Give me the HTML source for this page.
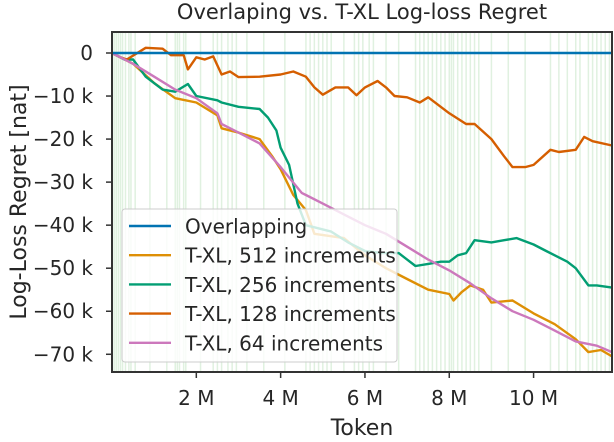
<!DOCTYPE html>
<html><head><meta charset="utf-8"><style>
html,body{margin:0;padding:0;background:#fff;}
svg{display:block;font-family:"DejaVu Sans","Liberation Sans",sans-serif;}
</style></head><body>
<svg id="chart" width="614" height="442" viewBox="0 0 614 442">
<text x="362" y="19" text-anchor="middle" font-size="21" fill="#262626">Overlaping vs. T-XL Log-loss Regret</text>
<g id="vlines"></g>
<g id="series"></g>
<g id="axes"></g>
<g id="legend"></g>
<text x="362" y="435" text-anchor="middle" font-size="22" fill="#262626">Token</text>
<text transform="translate(26,202) rotate(-90)" text-anchor="middle" font-size="22" fill="#262626">Log-Loss Regret [nat]</text>
</svg>
<script>
const xTicks=[2,4,6,8,10];
const xTickLabels=["2 M","4 M","6 M","8 M","10 M"];
const yTicks=[0,-10,-20,-30,-40,-50,-60,-70];
const yTickLabels=["0","\u221210 k","\u221220 k","\u221230 k","\u221240 k","\u221250 k","\u221260 k","\u221270 k"];
const seriesNames=["Overlapping","T-XL, 512 increments","T-XL, 256 increments","T-XL, 128 increments","T-XL, 64 increments"];
const seriesColors=["#0173b2","#de8f05","#029e73","#d55e00","#cc78bc"];
const overlapX=[0,11.86];
const overlapY=[0,0];
const s512X=[0,0.5,1.0,1.5,2.0,2.5,2.6,3.0,3.5,3.8,4.0,4.3,4.6,4.8,5.5,6.0,6.5,7.0,7.5,8.0,8.1,8.3,8.5,8.8,9.0,9.5,10.0,10.5,11.0,11.3,11.6,11.86];
const s512Y=[0,-2.5,-7,-10.5,-11.5,-14.5,-17.5,-18.5,-20,-24,-27,-33,-36.5,-42,-43,-47,-50,-52.5,-55,-56,-57.5,-55.5,-54,-55,-58,-57.5,-60.5,-63,-66.5,-69.5,-69,-70.5];
const s256X=[0,0.3,0.5,0.8,1.2,1.5,1.8,2.0,2.5,2.6,3.0,3.5,3.7,3.9,4.0,4.2,4.4,4.6,4.8,5.2,5.6,6.0,6.4,6.8,7.0,7.2,7.5,7.8,8.0,8.2,8.4,8.6,9.0,9.3,9.6,10.0,10.3,10.8,11.0,11.3,11.5,11.86];
const s256Y=[0,-1.5,-1.5,-5.5,-8.5,-9,-7.2,-10,-11,-11.5,-12.5,-13,-15,-18,-22,-26,-35,-40,-40.5,-41.5,-44,-46,-46.5,-46.5,-48,-49.5,-49,-48.5,-48.5,-47,-46.5,-43.5,-44,-43.5,-43,-44.5,-46,-48.5,-50,-54,-54,-54.5];
const s128X=[0,0.2,0.35,0.8,1.2,1.4,1.7,1.8,2.0,2.2,2.4,2.6,2.8,3.0,3.5,4.0,4.3,4.6,4.8,5.0,5.3,5.6,5.8,6.0,6.3,6.5,6.7,7.0,7.3,7.5,8.0,8.4,8.6,9.0,9.3,9.5,9.8,10.0,10.4,10.6,11.0,11.2,11.4,11.86];
const s128Y=[0,-1,-1.5,1.2,1,-0.5,-0.5,-3.8,-1,-1.5,-0.8,-5,-4.3,-5.6,-5.5,-5,-4.3,-5.5,-8,-9.7,-8,-8,-9.8,-8,-6.5,-8,-10,-10.3,-11.5,-10.3,-14,-16.5,-16.5,-20,-24,-26.5,-26.5,-26,-22.5,-23,-22.5,-19.5,-20.5,-21.5];
const s64X=[0,0.5,1.0,1.5,2.0,2.5,2.6,3.0,3.5,4.0,4.5,4.6,5.0,5.5,6.0,6.5,7.0,7.5,8.0,8.5,9.0,9.5,10.0,10.5,11.0,11.5,11.86];
const s64Y=[0,-2.5,-5.5,-8.5,-10.5,-14,-16.5,-18.5,-21,-26.5,-32.5,-33,-35,-37.5,-40,-42,-45,-48,-50.5,-53.5,-57,-60,-62,-64.5,-67,-68,-69.5];
const markerTokens=[0.05,0.1,0.15,0.2,0.25,0.32,0.4,0.45,0.55,0.9,1.3,1.5,1.55,1.6,1.7,1.75,2.1,2.4,2.5,2.6,2.75,2.85,2.95,3.2,3.6,4.1,4.6,4.7,4.8,4.9,5.0,5.1,5.2,5.5,5.75,5.85,5.95,6.1,6.2,6.5,6.8,7.2,7.3,7.4,7.5,7.6,7.7,7.8,7.9,8.0,8.05,8.1,8.2,8.3,8.4,8.5,8.6,8.7,9.0,9.4,9.8,10.4,10.6,10.8,11.0,11.1,11.3,11.4,11.5,11.6,11.7,11.8];

const NS="http://www.w3.org/2000/svg";
const L=112,R=612,T=32,B=372;
const xMax=11.86;
function xs(v){return L+v/xMax*(R-L);}
function ys(v){return 53+(-v)*4.304;}
function mk(tag,attrs,parent){const e=document.createElementNS(NS,tag);for(const k in attrs)e.setAttribute(k,attrs[k]);parent.appendChild(e);return e;}

const vg=document.getElementById('vlines');
markerTokens.forEach(t=>{
  const l=mk('line',{x1:xs(t),x2:xs(t),y1:T,y2:B,stroke:'#2ca02c','stroke-opacity':0.15,'stroke-width':1.5},vg);
  
  
});

const sg=document.getElementById('series');
const allX=[overlapX,s512X,s256X,s128X,s64X];
const allY=[overlapY,s512Y,s256Y,s128Y,s64Y];
const drawOrder=[1,2,3,4,0];
drawOrder.forEach(i=>{
  const d=allX[i].map((x,j)=>(j?'L':'M')+xs(x).toFixed(1)+' '+ys(allY[i][j]).toFixed(1)).join(' ');
  const p=mk('path',{d:d,fill:'none',stroke:seriesColors[i],'stroke-width':2.4,'stroke-linejoin':'round'},sg);
  
  
});

const ag=document.getElementById('axes');
xTicks.forEach((t,i)=>{
  const tk=mk('line',{x1:xs(t),x2:xs(t),y1:B,y2:B+6,stroke:'#333','stroke-width':1.5},ag);
  
  
  const tx=mk('text',{x:xs(t),y:B+33,'text-anchor':'middle','font-size':20,fill:'#262626'},ag);
  tx.textContent=xTickLabels[i];
  
  
});
yTicks.forEach((t,i)=>{
  const tk=mk('line',{x1:L-6,x2:L,y1:ys(t),y2:ys(t),stroke:'#333','stroke-width':1.5},ag);
  
  
  const tx=mk('text',{x:L-19,y:ys(t)+7,'text-anchor':'end','font-size':20,fill:'#262626'},ag);
  tx.textContent=yTickLabels[i];
  
  
});
const fr=mk('rect',{x:L,y:T,width:R-L,height:B-T,fill:'none',stroke:'#333','stroke-width':2},ag);



const lg=document.getElementById('legend');
const lb=mk('rect',{x:122,y:209,width:275,height:153,rx:3,fill:'#fff','fill-opacity':0.8,stroke:'#ccc','stroke-width':1},lg);


seriesNames.forEach((n,i)=>{
  const y=226+i*29.2;
  const ln=mk('line',{x1:129,x2:171,y1:y,y2:y,stroke:seriesColors[i],'stroke-width':2.4},lg);
  
  
  const tx=mk('text',{x:185,y:y+7.5,'font-size':20,fill:'#262626'},lg);
  tx.textContent=n;
  
  
});
</script>
</body></html>
